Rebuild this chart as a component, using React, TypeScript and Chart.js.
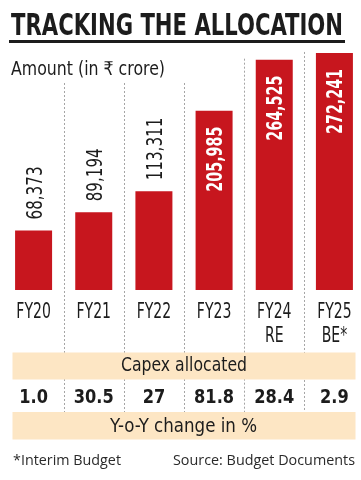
import React, { useEffect, useRef } from "react";
import { Chart, registerables } from "chart.js";

Chart.register(...registerables);

const categories: string[][] = [["FY20"], ["FY21"], ["FY22"], ["FY23"], ["FY24", "RE"], ["FY25", "BE*"]];
const capexAllocated: number[] = [68373, 89194, 113311, 205985, 264525, 272241];
const yoyChange: string[] = ["1.0", "30.5", "27", "81.8", "28.4", "2.9"];
const valueLabels: string[] = ["68,373", "89,194", "113,311", "205,985", "264,525", "272,241"];

const titleText = "TRACKING THE ALLOCATION";
const subtitleText = "Amount (in ₹ crore)";
const capexBandText = "Capex allocated";
const yoyBandText = "Y-o-Y change in %";
const footLeftText = "*Interim Budget";
const footRightText = "Source: Budget Documents";

const RED = "#c7161e";
const INK = "#1c1c1c";
const BAND = "#fde6c4";
const GRID = "#a5a5a5";
const NARROW = '"Liberation Sans Narrow", "DejaVu Sans Condensed", "Roboto", sans-serif';
const HUMAN = '"Open Sans", "Noto Sans", sans-serif';

type Align = "left" | "center" | "right";

function drawScaled(
  ctx: CanvasRenderingContext2D,
  text: string,
  x: number,
  y: number,
  font: string,
  color: string,
  align: Align,
  sx: number
) {
  ctx.save();
  ctx.font = font;
  ctx.fillStyle = color;
  ctx.textAlign = "left";
  ctx.textBaseline = "alphabetic";
  const w = ctx.measureText(text).width * sx;
  const x0 = align === "left" ? x : align === "center" ? x - w / 2 : x - w;
  ctx.translate(x0, y);
  ctx.scale(sx, 1);
  ctx.fillText(text, 0, 0);
  ctx.restore();
}

function fitFactor(ctx: CanvasRenderingContext2D, text: string, font: string, target: number) {
  ctx.save();
  ctx.font = font;
  const w = ctx.measureText(text).width;
  ctx.restore();
  return w > 0 ? target / w : 1;
}

function drawFit(
  ctx: CanvasRenderingContext2D,
  text: string,
  x: number,
  y: number,
  font: string,
  color: string,
  align: Align,
  target: number
) {
  drawScaled(ctx, text, x, y, font, color, align, fitFactor(ctx, text, font, target));
}

const decorPlugin = {
  id: "decor",
  beforeDatasetsDraw(chart: any) {
    const ctx: CanvasRenderingContext2D = chart.ctx;
    const xs = chart.scales.x;
    const meta = chart.getDatasetMeta(0);
    const n = chart.data.labels.length;
    ctx.save();
    ctx.strokeStyle = GRID;
    ctx.lineWidth = 1;
    ctx.setLineDash([2, 2]);
    for (let i = 0; i < n - 1; i++) {
      const xb = Math.round((xs.getPixelForValue(i) + xs.getPixelForValue(i + 1)) / 2) + 0.5;
      const nextTop = meta.data[i + 1].y;
      const start = Math.min(83, nextTop - 1);
      ctx.beginPath();
      ctx.moveTo(xb, start);
      ctx.lineTo(xb, 412);
      ctx.stroke();
    }
    ctx.restore();
  },
  afterDatasetsDraw(chart: any) {
    const ctx: CanvasRenderingContext2D = chart.ctx;
    const xs = chart.scales.x;
    const meta = chart.getDatasetMeta(0);
    const n = chart.data.labels.length;

    // Title + rule
    drawFit(ctx, titleText, 11, 35, `bold 30px ${NARROW}`, INK, "left", 332);
    ctx.save();
    ctx.fillStyle = INK;
    ctx.fillRect(9, 40, 336, 3);
    ctx.restore();

    // Subtitle
    drawFit(ctx, subtitleText, 11, 75, `19px ${NARROW}`, INK, "left", 154);

    // Value labels (rotated)
    const outFont = `22px ${NARROW}`;
    const inFont = `bold 22px ${NARROW}`;
    const outSx = fitFactor(ctx, valueLabels[0], outFont, 53);
    const inSx = fitFactor(ctx, valueLabels[3], inFont, 65);
    const capH = 22 * 0.72;
    for (let i = 0; i < n; i++) {
      const bar = meta.data[i];
      const top = bar.y;
      const height = bar.base - bar.y;
      const inside = height > 140;
      ctx.save();
      ctx.font = inside ? inFont : outFont;
      ctx.fillStyle = inside ? "#ffffff" : INK;
      ctx.textBaseline = "alphabetic";
      ctx.textAlign = inside ? "right" : "left";
      ctx.translate(bar.x, inside ? top + 16 : top - 11);
      ctx.rotate(-Math.PI / 2);
      ctx.scale(inside ? inSx : outSx, 1);
      ctx.fillText(valueLabels[i], 0, capH / 2);
      ctx.restore();
    }

    // Category labels
    const tickFont = `21px ${NARROW}`;
    const tickSx = fitFactor(ctx, "FY20", tickFont, 34.5);
    const labels = chart.data.labels as string[][];
    for (let i = 0; i < n; i++) {
      const cx = xs.getPixelForValue(i);
      labels[i].forEach((line, j) => {
        drawScaled(ctx, line, cx, 318 + j * 24, tickFont, INK, "center", tickSx);
      });
    }

    // Bands
    ctx.save();
    ctx.fillStyle = BAND;
    ctx.fillRect(12.5, 352.5, 343, 27);
    ctx.fillRect(12.5, 412, 343, 27.5);
    ctx.restore();
    drawFit(ctx, capexBandText, 184, 371, `20px ${NARROW}`, INK, "center", 126);
    drawFit(ctx, yoyBandText, 183.5, 431.5, `20px ${NARROW}`, INK, "center", 147);

    // Y-o-Y values
    const valFont = `bold 19px ${NARROW}`;
    const valSx = fitFactor(ctx, "30.5", valFont, 40);
    for (let i = 0; i < n; i++) {
      drawScaled(ctx, yoyChange[i], xs.getPixelForValue(i), 403, valFont, INK, "center", valSx);
    }

    // Footnotes
    drawFit(ctx, footLeftText, 13, 465, `15px ${HUMAN}`, "#2a2a2a", "left", 108);
    drawFit(ctx, footRightText, 355, 465, `15px ${HUMAN}`, "#2a2a2a", "right", 182);
  },
};

export default function App() {
  const ref = useRef<HTMLCanvasElement | null>(null);

  useEffect(() => {
    if (!ref.current) return;
    const chart = new Chart(ref.current, {
      type: "bar",
      data: {
        labels: categories,
        datasets: [
          {
            data: capexAllocated,
            backgroundColor: RED,
            borderWidth: 0,
            barPercentage: 0.615,
            categoryPercentage: 1,
          },
        ],
      },
      options: {
        responsive: false,
        animation: false,
        devicePixelRatio: 1,
        layout: { padding: { left: 3.5, right: 1.5, top: 37.5, bottom: 190 } },
        plugins: {
          legend: { display: false },
          tooltip: { enabled: false },
          title: { display: false },
        },
        scales: {
          x: { display: false },
          y: { display: false, min: 0, max: 290000 },
        },
      },
      plugins: [decorPlugin],
    } as any);
    return () => chart.destroy();
  }, []);

  return (
    <div
      style={{
        position: "absolute",
        left: 0,
        top: 0,
        width: 361,
        height: 480,
        overflow: "hidden",
        background: "#ffffff",
      }}
    >
      <canvas ref={ref} width={366} height={480} style={{ width: 366, height: 480, display: "block" }} />
    </div>
  );
}
